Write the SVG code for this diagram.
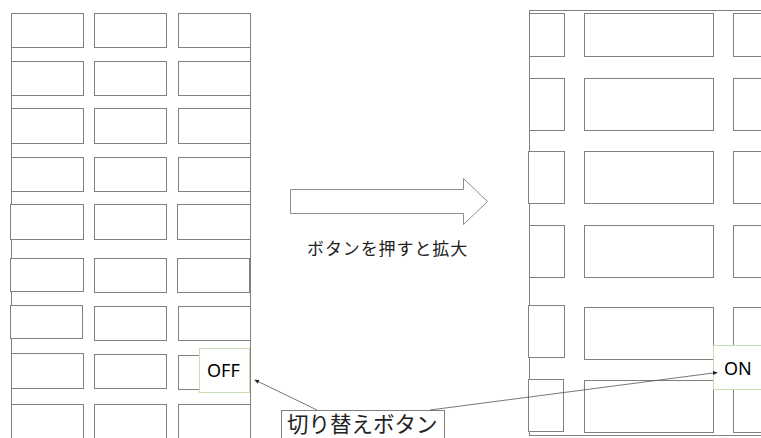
<svg xmlns="http://www.w3.org/2000/svg" width="761" height="438" viewBox="0 0 761 438">
<style>
.cell{fill:#fff;stroke:#7f7f7f;stroke-width:1}
.frame{fill:none;stroke:#7f7f7f;stroke-width:1}
.btn{fill:#fff;stroke:#c5dfb3;stroke-width:1}
.en{font-family:"Noto Sans","Liberation Sans",sans-serif;font-size:18px;fill:#000}
.jp{font-family:"Noto Sans CJK JP","Noto Sans",sans-serif;fill:#222}
.conn{stroke:#555;stroke-width:0.8;fill:none;marker-end:url(#ah)}
</style>
<defs>
<marker id="ah" viewBox="0 0 6 6" refX="5" refY="3" markerWidth="5" markerHeight="5" orient="auto" markerUnits="userSpaceOnUse">
<path d="M0,0.5 L6,3 L0,5.5 Z" fill="#222"/>
</marker>
</defs>
<rect width="761" height="438" fill="#fff"/>

<g id="left-grid">
<line class="frame" x1="11.5" y1="13" x2="11.5" y2="438"/>
<line class="frame" x1="250.5" y1="13" x2="250.5" y2="438"/>
<rect class="cell" x="11.5" y="13.5" width="72" height="34"/>
<rect class="cell" x="94.5" y="13.5" width="72" height="34"/>
<rect class="cell" x="178.5" y="13.5" width="72" height="34"/>
<rect class="cell" x="11.5" y="61.5" width="72" height="34"/>
<rect class="cell" x="94.5" y="61.5" width="72" height="34"/>
<rect class="cell" x="178.5" y="61.5" width="72" height="34"/>
<rect class="cell" x="11.5" y="108.5" width="72" height="35"/>
<rect class="cell" x="94.5" y="108.5" width="72" height="35"/>
<rect class="cell" x="178.5" y="108.5" width="72" height="35"/>
<rect class="cell" x="11.5" y="157.5" width="72" height="34"/>
<rect class="cell" x="94.5" y="157.5" width="72" height="34"/>
<rect class="cell" x="178.5" y="157.5" width="72" height="34"/>
<rect class="cell" x="10.5" y="204.5" width="73" height="35"/>
<rect class="cell" x="94.5" y="204.5" width="72" height="35"/>
<rect class="cell" x="177.5" y="204.5" width="73" height="35"/>
<rect class="cell" x="10.5" y="258.5" width="73" height="33"/>
<rect class="cell" x="94.5" y="258.5" width="72" height="34"/>
<rect class="cell" x="177.5" y="258.5" width="72" height="34"/>
<rect class="cell" x="10.5" y="305.5" width="72" height="33"/>
<rect class="cell" x="94.5" y="306.5" width="72" height="34"/>
<rect class="cell" x="178.5" y="306.5" width="72" height="34"/>
<rect class="cell" x="11.5" y="353.5" width="72" height="35"/>
<rect class="cell" x="94.5" y="354.5" width="72" height="34"/>
<rect class="cell" x="178.5" y="355.5" width="72" height="34"/>
<rect class="cell" x="11.5" y="404.5" width="72" height="34"/>
<rect class="cell" x="94.5" y="404.5" width="72" height="34"/>
<rect class="cell" x="178.5" y="404.5" width="72" height="34"/>
</g>

<g id="right-grid">
<line class="frame" x1="529.5" y1="10" x2="529.5" y2="436"/>
<line class="frame" x1="529" y1="10.5" x2="761" y2="10.5"/>
<line class="frame" x1="529" y1="435.5" x2="761" y2="435.5"/>
<rect class="cell" x="529.5" y="13.5" width="35" height="43"/>
<rect class="cell" x="584.5" y="13.5" width="129" height="43"/>
<rect class="cell" x="733.5" y="13.5" width="60" height="43"/>
<rect class="cell" x="529.5" y="78.5" width="35" height="52"/>
<rect class="cell" x="584.5" y="78.5" width="129" height="52"/>
<rect class="cell" x="733.5" y="78.5" width="60" height="52"/>
<rect class="cell" x="528.5" y="151.5" width="36" height="52"/>
<rect class="cell" x="584.5" y="151.5" width="129" height="52"/>
<rect class="cell" x="733.5" y="151.5" width="60" height="52"/>
<rect class="cell" x="529.5" y="225.5" width="35" height="52"/>
<rect class="cell" x="584.5" y="225.5" width="129" height="52"/>
<rect class="cell" x="733.5" y="225.5" width="60" height="52"/>
<rect class="cell" x="528.5" y="305.5" width="36" height="52"/>
<rect class="cell" x="584.5" y="307.5" width="129" height="52"/>
<rect class="cell" x="733.5" y="307.5" width="60" height="52"/>
<rect class="cell" x="528.5" y="379.5" width="35" height="52"/>
<rect class="cell" x="584.5" y="380.5" width="129" height="52"/>
<rect class="cell" x="733.5" y="380.5" width="60" height="52"/>
</g>

<g id="zoom-arrow">
<polygon points="290.5,189.5 463.5,189.5 463.5,178.5 487.5,201.5 463.5,224.5 463.5,213.5 290.5,213.5" fill="#fff" stroke="#8c8c8c" stroke-width="1"/>
</g>
<g id="caption">
<text class="jp" x="307" y="255" font-size="17" letter-spacing="0.9">ボタンを押すと拡大</text>
</g>

<g id="off-button">
<rect class="btn" x="199.5" y="348.5" width="50" height="44"/>
<text class="en" x="207" y="377">OFF</text>
</g>

<g id="on-button">
<rect class="btn" x="713.5" y="345.5" width="70" height="44"/>
<text class="en" x="724" y="375">ON</text>
</g>

<g id="toggle-label">
<rect x="281.5" y="410.5" width="163" height="40" fill="#fff" stroke="#7f7f7f" stroke-width="1"/>
<text class="jp" x="287" y="432" font-size="21.5">切り替えボタン</text>
</g>

<g id="connectors">
<line class="conn" x1="317" y1="410" x2="255" y2="380"/>
<line class="conn" x1="430" y1="410" x2="717" y2="372.5"/>
</g>
</svg>
